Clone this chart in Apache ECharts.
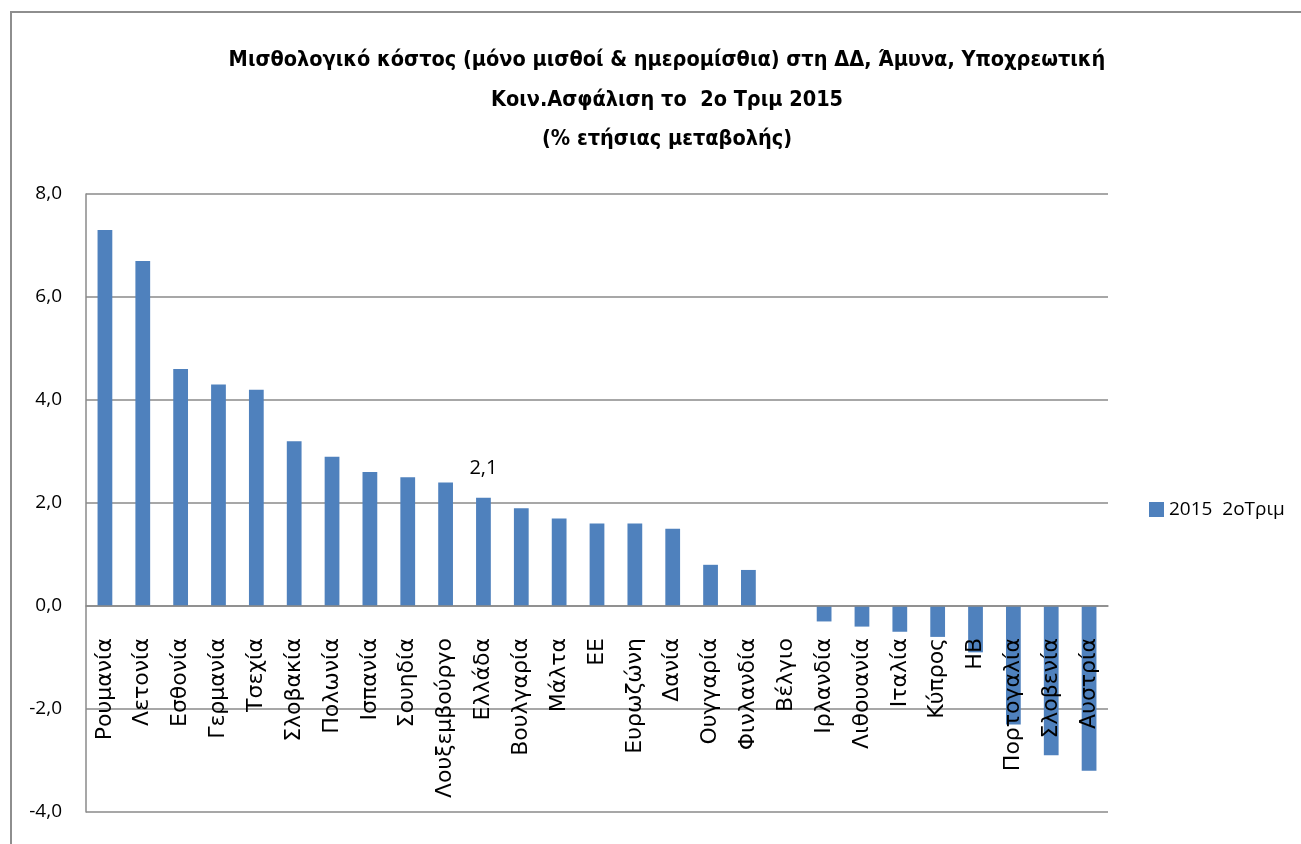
<!DOCTYPE html>
<html>
<head>
<meta charset="utf-8">
<script src="https://cdn.jsdelivr.net/npm/echarts@6/dist/echarts.min.js"></script>
<style>
html,body{margin:0;padding:0;background:#fff;}
#c{width:1301px;height:844px;}
</style>
</head>
<body>
<div id="c"></div>
<script>
const categories = ['Ρουμανία','Λετονία','Εσθονία','Γερμανία','Τσεχία','Σλοβακία','Πολωνία','Ισπανία','Σουηδία','Λουξεμβούργο','Ελλάδα','Βουλγαρία','Μάλτα','ΕΕ','Ευρωζώνη','Δανία','Ουγγαρία','Φινλανδία','Βέλγιο','Ιρλανδία','Λιθουανία','Ιταλία','Κύπρος','ΗΒ','Πορτογαλία','Σλοβενία','Αυστρία'];
const values = [7.3,6.7,4.6,4.3,4.2,3.2,2.9,2.6,2.5,2.4,2.1,1.9,1.7,1.6,1.6,1.5,0.8,0.7,0.0,-0.3,-0.4,-0.5,-0.6,-0.9,-2.3,-2.9,-3.2];
const labelledCategories = ['Ελλάδα'];
const seriesName = '2015  2oΤριμ';
const titleLines = ['Μισθολογικό κόστος (μόνο μισθοί & ημερομίσθια) στη ΔΔ, Άμυνα, Υποχρεωτική','Κοιν.Ασφάλιση το  2ο Τριμ 2015','(% ετήσιας μεταβολής)'];
const yTicks = {min:-4, max:8, interval:2};

const fmt = v => v.toFixed(1).replace('.', ',');
const sideFont = '"Open Sans", "Liberation Sans", sans-serif';

const gridTop = 194, gridBottomY = 812;
const zeroY = gridTop + (gridBottomY - gridTop) * (yTicks.max - 0) / (yTicks.max - yTicks.min);

const chart = echarts.init(document.getElementById('c'), null, {renderer:'canvas'});
chart.setOption({
  animation:false,
  backgroundColor:'#fff',
  title:{
    text: titleLines.join('\n'),
    left: 662, top: 36, textAlign:'center',
    textStyle:{fontFamily:'"Liberation Sans Narrow", "DejaVu Sans Condensed", "Open Sans", sans-serif', fontWeight:'bold', fontSize:21.5, lineHeight:39.5, color:'#000'}
  },
  graphic:[{type:'rect', shape:{x:11,y:12,width:1400,height:1000}, style:{fill:'none', stroke:'#8e8e8e', lineWidth:2}, silent:true}],
  legend:{
    data:[seriesName], orient:'vertical', left:1144, top:495,
    itemWidth:15, itemHeight:15, icon:'rect',
    textStyle:{fontFamily:sideFont, fontSize:19, color:'#000'}
  },
  grid:{left:86, right:193, top:gridTop, bottom:844-gridBottomY, containLabel:false, outerBoundsMode:'none'},
  xAxis:{
    type:'category', data:categories, position:'bottom', z:5,
    offset: -(gridBottomY - zeroY),
    axisLine:{show:true, onZero:false, lineStyle:{color:'#8a8a8a', width:1.5}},
    axisTick:{show:false},
    axisLabel:{rotate:90, margin:32, interval:0, fontFamily:'"DejaVu Sans", sans-serif', fontSize:22, color:'#000'}
  },
  yAxis:{
    type:'value', min:yTicks.min, max:yTicks.max, interval:yTicks.interval,
    axisLine:{show:true, lineStyle:{color:'#8a8a8a', width:1.5}},
    axisTick:{show:false},
    splitLine:{lineStyle:{color:'#8a8a8a', width:1.5}},
    axisLabel:{formatter:fmt, margin:24, fontFamily:sideFont, fontSize:19, color:'#000'}
  },
  series:[{
    name:seriesName, type:'bar', barWidth:'39%', z:2,
    itemStyle:{color:'#4F81BD'},
    data: values.map((v,i)=> labelledCategories.includes(categories[i]) ?
      {value:v, label:{show:true, position:'top', distance:20, formatter:p=>fmt(p.value), fontFamily:sideFont, fontSize:20, color:'#000'}} : v)
  }]
});
</script>
</body>
</html>
